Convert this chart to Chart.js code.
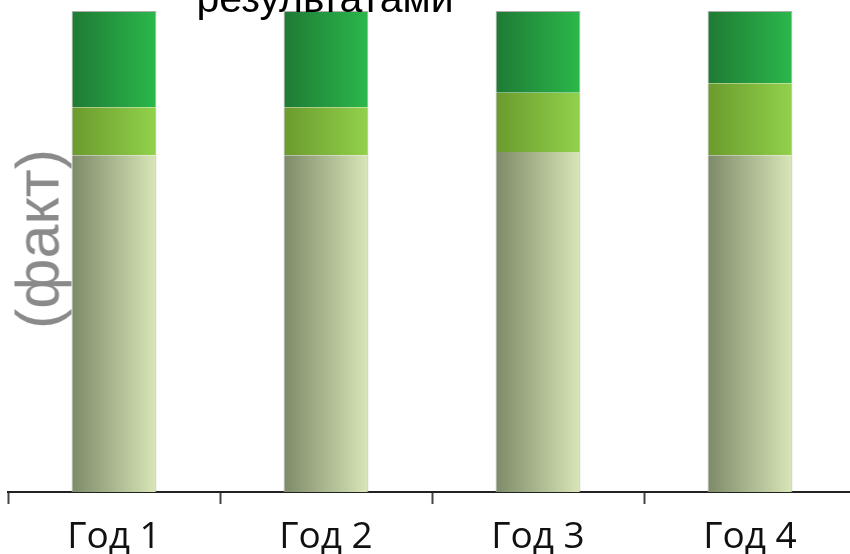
<!DOCTYPE html>
<html>
<head>
<meta charset="utf-8">
<script src="https://cdn.jsdelivr.net/npm/chart.js@4/dist/chart.umd.min.js"></script>
<style>
  html, body { margin: 0; padding: 0; width: 850px; height: 554px; overflow: hidden; background: #fff; }
  #wrap { position: absolute; left: 0; top: 0; width: 870px; height: 554px; }
  #title { position: absolute; left: 0; width: 650px; text-align: center; top: -25px;
           font-family: "Liberation Sans", Arial, sans-serif; font-size: 41px; color: #000; white-space: nowrap; }
  #ytitle { position: absolute; left: 38px; top: 239px; transform: translate(-50%, -50%) rotate(-90deg);
            font-family: "Liberation Sans", Arial, sans-serif; font-size: 61px; color: #8a8a8a; white-space: nowrap; line-height: 1; }
</style>
</head>
<body>
<div id="wrap"><canvas id="c" width="870" height="554"></canvas></div>
<div id="title">результатами</div>
<div id="ytitle">(факт)</div>
<script>
const categories = ["Год 1", "Год 2", "Год 3", "Год 4"];
const baseValues = [70, 70, 70.7, 70];
const midValues = [10, 10, 12.3, 15];
const topValues = [20, 20, 17, 15];

const BAR_FRACTION = 0.4;

function grad(c0, c1) {
  return (ctx) => {
    const chart = ctx.chart;
    const xs = chart.scales && chart.scales.x;
    if (!xs || ctx.dataIndex === undefined || !chart.chartArea) return c1;
    const cx = xs.getPixelForValue(ctx.dataIndex);
    const half = (xs.width / categories.length) * BAR_FRACTION / 2;
    if (!isFinite(cx) || !isFinite(half)) return c1;
    const g = chart.ctx.createLinearGradient(cx - half, 0, cx + half, 0);
    g.addColorStop(0, c0);
    g.addColorStop(1, c1);
    return g;
  };
}

new Chart(document.getElementById('c'), {
  type: 'bar',
  data: {
    labels: categories,
    datasets: [
      { label: 'base', data: baseValues, backgroundColor: grad('#7d8a68', '#d8e6b8'),
        borderColor: '#b0b0b0', borderWidth: {left: 1, right: 1, top: 0, bottom: 0}, borderSkipped: false },
      { label: 'mid', data: midValues, backgroundColor: grad('#6a9a2c', '#92d24c'),
        borderColor: '#b0b0b0', borderWidth: {left: 1, right: 1, top: 0, bottom: 0}, borderSkipped: false },
      { label: 'top', data: topValues, backgroundColor: grad('#1e7a34', '#2bb84b'),
        borderColor: '#b0b0b0', borderWidth: {left: 1, right: 1, top: 1, bottom: 0}, borderSkipped: false }
    ]
  },
  options: {
    responsive: false,
    devicePixelRatio: 1,
    animation: false,
    layout: { padding: { left: 8, right: 14, top: 11, bottom: 0 } },
    plugins: { legend: { display: false }, tooltip: { enabled: false }, title: { display: false } },
    datasets: { bar: { categoryPercentage: 1, barPercentage: BAR_FRACTION } },
    scales: {
      x: {
        stacked: true,
        afterFit: (s) => { s.height = 62; },
        grid: { display: true, drawOnChartArea: false, drawTicks: true, tickLength: 12, tickWidth: 2, tickColor: '#444', offset: true },
        border: { display: true, color: '#222', width: 2 },
        ticks: { color: '#111', font: { family: '"Open Sans", sans-serif', size: 37 }, padding: 11, maxRotation: 0, autoSkip: false }
      },
      y: {
        stacked: true, display: false, min: 0, max: 100
      }
    }
  }
});
</script>
</body>
</html>
